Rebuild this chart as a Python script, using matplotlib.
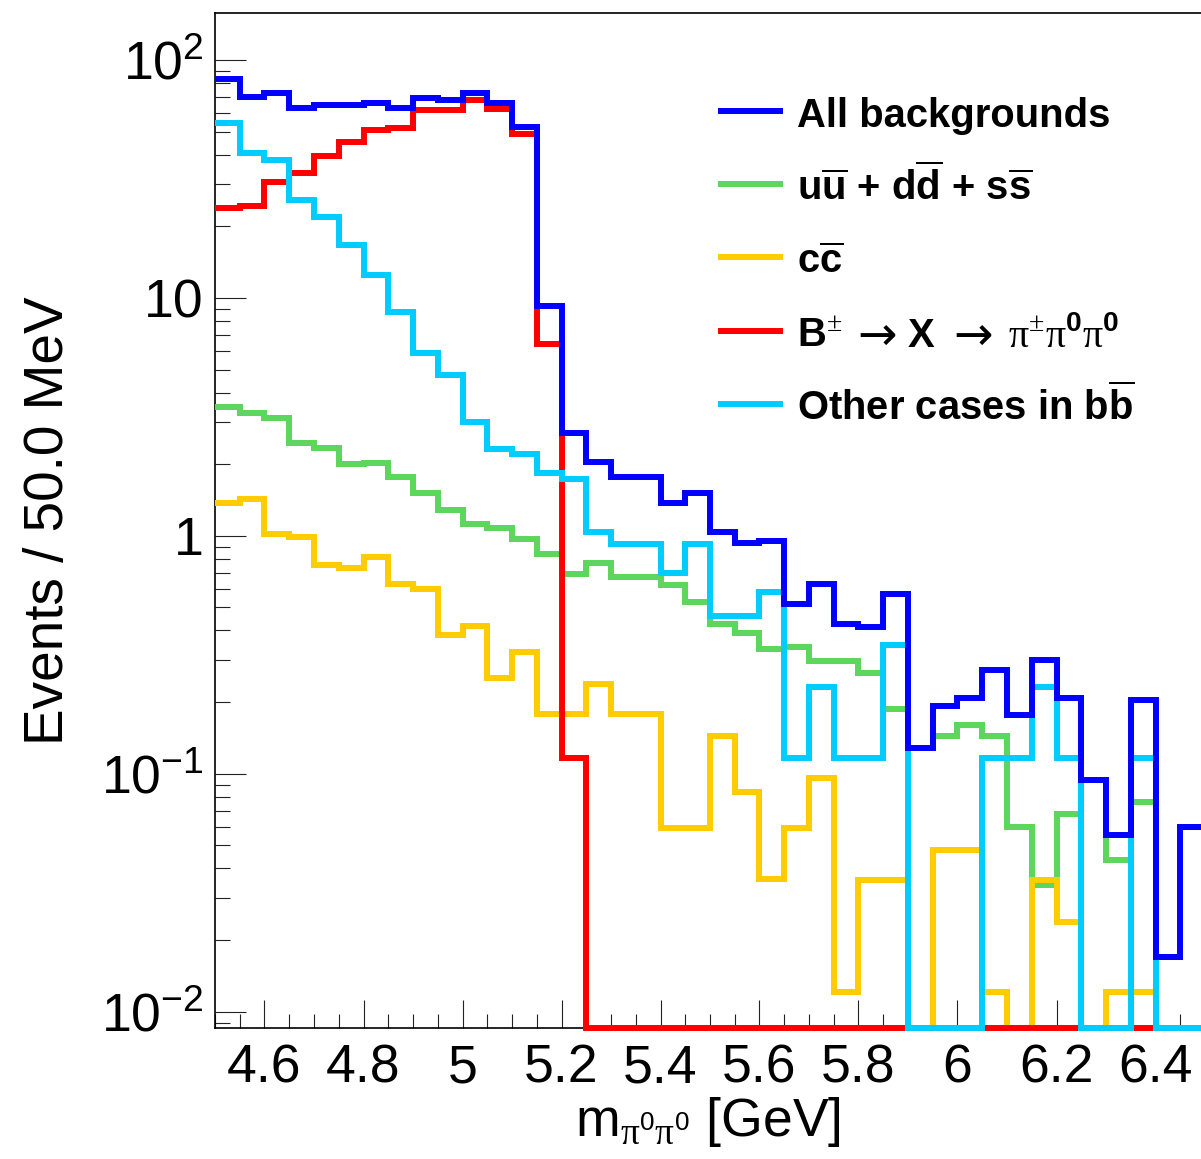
import numpy as np
import matplotlib
matplotlib.use("Agg")
import matplotlib.pyplot as plt
from matplotlib.lines import Line2D
from matplotlib.ticker import FixedLocator, FixedFormatter, MultipleLocator, LogLocator, NullFormatter

plt.rcParams['font.family'] = ['Liberation Sans', 'DejaVu Sans']
plt.rcParams['mathtext.fontset'] = 'custom'
plt.rcParams['mathtext.rm'] = 'Liberation Serif'
plt.rcParams['mathtext.sf'] = 'Liberation Sans'
plt.rcParams['mathtext.bf'] = 'Liberation Sans:bold'
plt.rcParams['mathtext.it'] = 'Liberation Sans:italic'

# ---- binning: 40 bins of 50 MeV between 4.5 and 6.5 GeV ----
m_low, m_high, n_bins = 4.5, 6.5, 40
edges = np.linspace(m_low, m_high, n_bins + 1)

# ---- per-bin event yields ----
uds = [3.47, 3.27, 3.12, 2.46, 2.33, 2.01, 2.03, 1.77, 1.51, 1.28,
       1.117, 1.08, 0.968, 0.835, 0.689, 0.766, 0.672, 0.672, 0.621, 0.528,
       0.428, 0.391, 0.333, 0.341, 0.298, 0.298, 0.264, 0.187, 0.128, 0.144,
       0.161, 0.144, 0.0598, 0.034, 0.068, 0.094, 0.0433, 0.0762, 0.017, 0.0598]

ccbar = [1.376, 1.427, 1.016, 0.99, 0.753, 0.729, 0.811, 0.626, 0.597, 0.383,
         0.417, 0.2515, 0.3253, 0.179, 0.179, 0.238, 0.179, 0.179, 0.0592, 0.0592,
         0.144, 0.084, 0.036, 0.0592, 0.0955, 0.0121, 0.0357, 0.0357, 0.0, 0.0477,
         0.0477, 0.0121, 0.0, 0.0357, 0.0238, 0.0, 0.0121, 0.0121, 0.0, 0.0]

b_to_x = [23.8, 24.4, 30.8, 33.4, 39.5, 45.3, 50.7, 51.9, 61.5, 61.5,
          67.8, 62.0, 48.8, 6.38, 0.116, 0.0, 0.0, 0.0, 0.0, 0.0,
          0.0, 0.0, 0.0, 0.0, 0.0, 0.0, 0.0, 0.0, 0.0, 0.0,
          0.0, 0.0, 0.0, 0.0, 0.0, 0.0, 0.0, 0.0, 0.0, 0.0]

other_bb = [54.5, 40.5, 37.9, 25.8, 21.9, 16.7, 12.5, 8.74, 5.85, 4.74,
            3.01, 2.31, 2.20, 1.84, 1.73, 1.04, 0.923, 0.923, 0.695, 0.923,
            0.461, 0.461, 0.578, 0.116, 0.232, 0.116, 0.116, 0.347, 0.0, 0.0,
            0.0, 0.116, 0.116, 0.232, 0.116, 0.0, 0.0, 0.116, 0.0, 0.0]

# all backgrounds = sum of the components
all_bkg = (np.array(uds) + np.array(ccbar) + np.array(b_to_x) + np.array(other_bb)).tolist()

# legend labels; the decay chain is typeset piece by piece (text, arrow, text, arrow, text)
labels = [
    'All backgrounds',
    r'u$\mathbf{\overline{u}}$ + d$\mathbf{\overline{d}}$ + s$\mathbf{\overline{s}}$',
    r'c$\mathbf{\overline{c}}$',
    [r'B$^{\pm}$', '→', 'X', '→',
     r'$\mathrm{π}^{\pm}\mathrm{π}^{\mathbf{0}}\mathrm{π}^{\mathbf{0}}$'],
    r'Other cases in b$\mathbf{\overline{b}}$',
]
colors = ['#0000ff', '#5cd65c', '#ffcc00', '#ff0000', '#00ccff']
series = [all_bkg, uds, ccbar, b_to_x, other_bb]
draw_z = [3.5, 3.0, 3.1, 3.2, 3.3]

x_ticks = [4.6, 4.8, 5.0, 5.2, 5.4, 5.6, 5.8, 6.0, 6.2, 6.4]
x_tick_labels = ['4.6', '4.8', '5', '5.2', '5.4', '5.6', '5.8', '6', '6.2', '6.4']
y_ticks = [0.01, 0.1, 1, 10, 100]
y_tick_labels = [r'$\mathdefault{10^{-2}}$', r'$\mathdefault{10^{-1}}$', '1', '10',
                 r'$\mathdefault{10^{2}}$']

Y_LO, Y_HI = 0.00856, 157.6

W, H = 1201, 1159
fig = plt.figure(figsize=(W / 100, H / 100), dpi=100)
ax = fig.add_axes([215 / W, 131.3 / H, 990 / W, 1014.7 / H])
ax.set_yscale('log')
ax.set_xlim(m_low, m_high)
ax.set_ylim(Y_LO, Y_HI)

lw = 4.3
for vals, col, z in zip(series, colors, draw_z):
    v = np.asarray(vals, dtype=float)
    # empty bins are drawn along the bottom of the frame
    v = np.where(v > 0, v, Y_LO)
    ax.stairs(v, edges, baseline=None, fill=False, edgecolor=col,
              linewidth=lw, zorder=z, clip_on=False, joinstyle='miter',
              capstyle='butt')

for s in ax.spines.values():
    s.set_linewidth(1.2)
    s.set_color('black')

ax.xaxis.set_major_locator(FixedLocator(x_ticks))
ax.xaxis.set_major_formatter(FixedFormatter(x_tick_labels))
ax.xaxis.set_minor_locator(MultipleLocator(0.05))
ax.yaxis.set_major_locator(FixedLocator(y_ticks))
ax.yaxis.set_major_formatter(FixedFormatter(y_tick_labels))
ax.yaxis.set_minor_locator(LogLocator(base=10, subs=np.arange(2, 10)))
ax.yaxis.set_minor_formatter(NullFormatter())

ax.tick_params(axis='both', which='both', direction='in', top=False, right=False,
               width=0.8, color='#222222')
ax.tick_params(axis='x', which='major', length=20.5, labelsize=38.5, pad=11.5)
ax.tick_params(axis='x', which='minor', length=10.2)
ax.tick_params(axis='y', which='major', length=22, labelsize=38.5, pad=8)
ax.tick_params(axis='y', which='minor', length=11)

ax.set_ylabel('Events / 50.0 MeV', fontsize=39.5)
ax.yaxis.set_label_coords(-0.1414, 0.5)
ax.set_xlabel(r'm$_{\mathrm{π}^{\mathsf{0}}\mathrm{π}^{\mathsf{0}}}$ [GeV]', fontsize=38.5)
ax.xaxis.set_label_coords(0.498, -0.1065)
ax.xaxis.label.set_va('baseline')

# legend entries
piece_x = [797, 857, 908, 953, 1008]
for i, (lab, col) in enumerate(zip(labels, colors)):
    y_line = 110.7 + 73.3 * i
    y_base = y_line + 16
    fig.add_artist(Line2D([718 / W, 783 / W], [1 - y_line / H] * 2, color=col,
                          linewidth=lw, solid_capstyle='butt'))
    if isinstance(lab, list):
        for px, piece in zip(piece_x, lab):
            if piece == '→':
                fig.text(px / W, 1 - (y_base + 3) / H, piece, fontsize=34,
                         family='DejaVu Sans', fontweight='normal',
                         va='baseline', ha='left')
            else:
                fig.text(px / W, 1 - y_base / H, piece, fontsize=28.8,
                         fontweight='bold', va='baseline', ha='left')
    else:
        fig.text(797 / W, 1 - y_base / H, lab, fontsize=28.8,
                 fontweight='bold', va='baseline', ha='left')

fig.savefig('out.png', dpi=100)
